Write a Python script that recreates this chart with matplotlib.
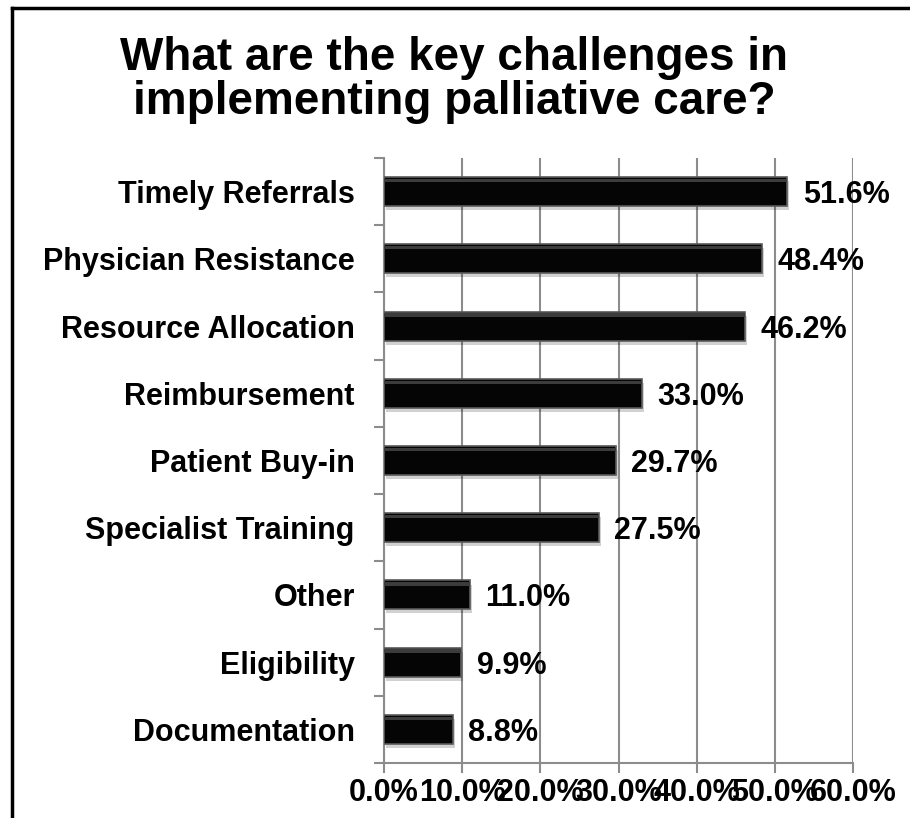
import numpy as np
import matplotlib.pyplot as plt
from matplotlib.lines import Line2D
from matplotlib.ticker import FuncFormatter

# --- Data ---
categories = ['Timely Referrals', 'Physician Resistance', 'Resource Allocation',
              'Reimbursement', 'Patient Buy-in', 'Specialist Training',
              'Other', 'Eligibility', 'Documentation']
values = [51.6, 48.4, 46.2, 33.0, 29.7, 27.5, 11.0, 9.9, 8.8]
xticks = [0, 10, 20, 30, 40, 50, 60]
title = 'What are the key challenges in\nimplementing palliative care?'

plt.rcParams['font.family'] = ['Liberation Sans', 'DejaVu Sans']
plt.rcParams['font.weight'] = 'bold'

W, H = 910, 818
fig = plt.figure(figsize=(W / 100, H / 100), dpi=100)
ax = fig.add_axes([384 / W, 1 - 763 / H, (853 - 384) / W, (763 - 158) / H])

grid_col = '#8c8c8c'
y = np.arange(len(categories))
bh = 0.43

# soft drop shadow under each bar
ax.barh(y + 0.06, values, height=bh, left=0.25, color='#000000', alpha=0.18,
        zorder=2, linewidth=0)
ax.barh(y, values, height=bh, color='#050505', edgecolor='#5a5a5a',
        linewidth=1.2, zorder=3)
# thin highlight at the top of each bar for a bevelled look
ax.barh(y - bh / 2 + 0.05, values, height=0.05, color='#3c3c3c', linewidth=0, zorder=4)

for yi, v in zip(y, values):
    ax.annotate(f'{v:.1f}%', xy=(v, yi), xytext=(11, 0), textcoords='offset points',
                ha='left', va='center_baseline', fontsize=22, fontweight='bold', zorder=5)

ax.set_xlim(0, 60)
ax.set_ylim(len(categories) - 0.5, -0.5)
ax.set_xticks(xticks)
ax.xaxis.set_major_formatter(FuncFormatter(lambda v, p: f'{v:.1f}%'))
ax.set_yticks(y)
ax.set_yticklabels(categories)
ax.set_yticks(np.arange(-0.5, len(categories)), minor=True)

ax.tick_params(axis='x', length=7, width=1.5, color=grid_col, labelsize=22, pad=4)
ax.tick_params(axis='y', which='major', length=0, labelsize=22, pad=21)
ax.tick_params(axis='y', which='minor', length=7, width=1.5, color=grid_col, direction='out')
for lab in ax.get_xticklabels() + ax.get_yticklabels():
    lab.set_fontweight('bold')

ax.grid(axis='x', color=grid_col, linewidth=1.5, zorder=0)
ax.set_axisbelow(True)
for s in ['top', 'right']:
    ax.spines[s].set_visible(False)
for s in ['left', 'bottom']:
    ax.spines[s].set_color(grid_col)
    ax.spines[s].set_linewidth(1.5)

fig.text(0.499, 1 - 80 / H, title, ha='center', va='center', fontsize=33,
         fontweight='bold', linespacing=1.0)

# outer frame (runs off the right and bottom edges)
fx, fy = 12 / W, 1 - 8 / H
fig.add_artist(Line2D([fx, fx], [0, fy], transform=fig.transFigure, color='black', lw=2.5))
fig.add_artist(Line2D([fx, 1], [fy, fy], transform=fig.transFigure, color='black', lw=2.5))

fig.savefig('out.png', dpi=100)
